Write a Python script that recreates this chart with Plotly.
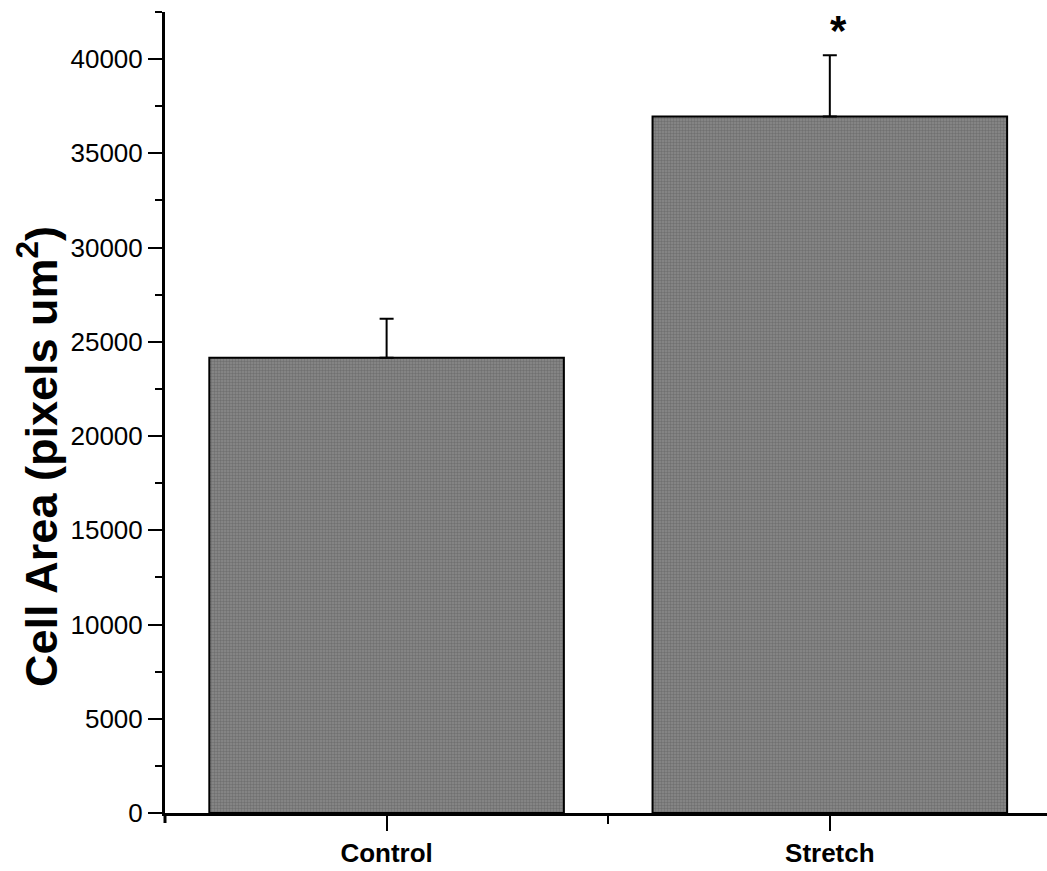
import plotly.graph_objects as go

categories = ["Control", "Stretch"]
means = [24160, 36960]
errors_plus = [2070, 3240]
y_ticks = [0, 5000, 10000, 15000, 20000, 25000, 30000, 35000, 40000]
y_ticklabels = ["0", "5000", "10000", "15000", "20000", "25000", "30000", "35000", "40000"]
y_title = "Cell Area (pixels um<sup>2</sup>)"
significance = ["", "*"]

W, H = 1047, 871
L, R, T, B = 165, 0, 12, 58
FONT = "Liberation Sans, Arial, sans-serif"

xpos = list(range(len(categories)))

fig = go.Figure()
fig.add_trace(go.Bar(
    x=xpos, y=means, width=0.8,
    marker=dict(
        color="#7c7c7c",
        line=dict(color="black", width=2),
        pattern=dict(shape=".", size=3, solidity=0.5, fgcolor="#555555", bgcolor="#8a8a8a"),
    ),
    error_y=dict(type="data", symmetric=False, array=errors_plus, arrayminus=[0] * len(means),
                 color="black", thickness=2, width=7),
    showlegend=False,
))

for i, s in enumerate(significance):
    if s:
        fig.add_annotation(x=xpos[i], y=means[i] + errors_plus[i], text="<b>" + s + "</b>",
                           showarrow=False, yanchor="bottom", yshift=-1, xshift=9,
                           font=dict(family=FONT, size=42, color="black"))

fig.add_annotation(xref="paper", yref="paper", x=(38 - L) / (W - L - R), y=(813 - 457) / (H - T - B),
                   text="<b>" + y_title + "</b>", textangle=-90, showarrow=False,
                   xanchor="center", yanchor="middle",
                   font=dict(family=FONT, size=45, color="black"))

# axis overhang below origin
fig.add_shape(type="line", xref="paper", yref="paper", x0=0, x1=0, y0=0, y1=-10 / (H - T - B),
              line=dict(color="black", width=3))

fig.update_layout(
    width=W, height=H,
    margin=dict(l=L, r=R, t=T, b=B),
    paper_bgcolor="white", plot_bgcolor="white",
    font=dict(family=FONT, color="black"),
)
fig.update_xaxes(
    range=[-0.5, 1.49], tickmode="array", tickvals=xpos,
    ticktext=["<b>" + c + "</b>" for c in categories],
    ticks="outside", ticklen=15, tickwidth=2, tickcolor="black",
    minor=dict(tickmode="array", tickvals=[0.5], ticks="outside", ticklen=8, tickwidth=2, tickcolor="black"),
    showline=True, linecolor="black", linewidth=3, showgrid=False, zeroline=False,
    tickfont=dict(family=FONT, size=26, color="black"),
)
fig.update_yaxes(
    range=[0, 42500], tickmode="array", tickvals=y_ticks, ticktext=y_ticklabels,
    ticks="outside", ticklen=14, tickwidth=2, tickcolor="black",
    minor=dict(dtick=2500, ticks="outside", ticklen=7, tickwidth=2, tickcolor="black"),
    showline=True, linecolor="black", linewidth=3, showgrid=False, zeroline=False,
    tickfont=dict(family=FONT, size=26, color="black"),
)

fig.write_html("out.html")
